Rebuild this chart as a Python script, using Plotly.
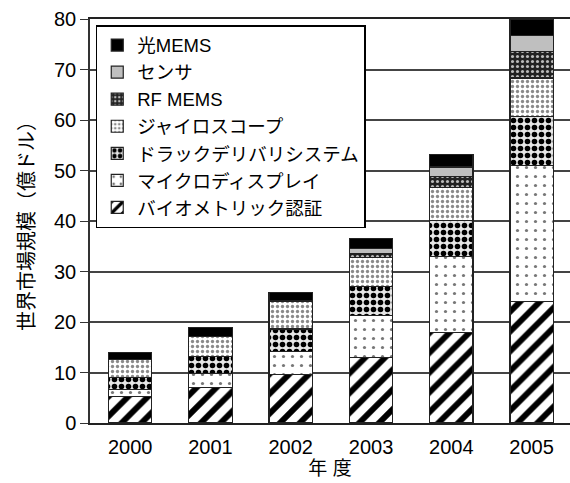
import plotly.graph_objects as go

# Fiscal years on the category axis
years = ["2000", "2001", "2002", "2003", "2004", "2005"]

# Market size per segment (100 million USD), bottom of stack first
biometric = [5.2, 7.0, 9.6, 12.9, 17.9, 24.1]
microdisplay = [1.5, 2.8, 4.6, 8.4, 15.0, 26.9]
drug_delivery = [2.3, 3.4, 4.4, 5.8, 7.2, 9.7]
gyroscope = [3.5, 3.9, 5.4, 5.6, 6.6, 7.6]
rf_mems = [0.0, 0.0, 0.0, 0.8, 2.1, 5.2]
sensor = [0.0, 0.0, 0.3, 1.0, 1.9, 3.3]
optical_mems = [1.4, 1.8, 1.6, 2.1, 2.4, 3.2]

FONT = "Liberation Sans, Arial, Noto Sans CJK JP, sans-serif"
EDGE = dict(color="#222222", width=1.2)

series = [
    ("バイオメトリック認証", biometric,
     dict(shape="/", fgcolor="black", bgcolor="white", size=14, solidity=0.42)),
    ("マイクロディスプレイ", microdisplay,
     dict(shape=".", fgcolor="#777777", bgcolor="white", size=9, solidity=0.1)),
    ("ドラックデリバリシステム", drug_delivery,
     dict(shape=".", fgcolor="black", bgcolor="#e6e6e6", size=7, solidity=0.5)),
    ("ジャイロスコープ", gyroscope,
     dict(shape=".", fgcolor="#8a8a8a", bgcolor="white", size=5, solidity=0.35)),
    ("RF MEMS", rf_mems,
     dict(shape=".", fgcolor="#bbbbbb", bgcolor="#222222", size=5, solidity=0.3)),
    ("センサ", sensor, None),
    ("光MEMS", optical_mems, None),
]
solid = {"センサ": "#bfbfbf", "光MEMS": "black"}

fig = go.Figure()
for name, vals, pattern in series:
    marker = dict(line=EDGE)
    if pattern is None:
        marker["color"] = solid[name]
    else:
        marker["color"] = "white"
        marker["pattern"] = dict(fillmode="replace", **pattern)
    fig.add_trace(go.Bar(x=years, y=vals, name=name, marker=marker, width=0.54))

fig.update_layout(
    barmode="stack",
    width=570,
    height=483,
    margin=dict(l=90, r=0, t=19, b=60),
    paper_bgcolor="white",
    plot_bgcolor="white",
    font=dict(family=FONT, size=19, color="black"),
    legend=dict(
        traceorder="reversed",
        x=0.012, y=0.985, xanchor="left", yanchor="top",
        bgcolor="white", bordercolor="black", borderwidth=1.5,
        font=dict(size=18.5), itemwidth=30, tracegroupgap=0,
    ),
    xaxis=dict(
        range=[-0.5, 5.478],
        showline=True, linecolor="#222222", linewidth=1.5, mirror=True,
        ticks="", tickfont=dict(size=20), ticklabelstandoff=5,
        title=dict(text="年 度", font=dict(size=19), standoff=3),
    ),
    yaxis=dict(
        range=[0, 80], dtick=10,
        showline=True, linecolor="#333333", linewidth=1.5,
        ticks="outside", ticklen=8, tickcolor="#333333",
        showgrid=True, gridcolor="#444444", gridwidth=1.5,
        tickfont=dict(size=20),
        title=dict(text="世界市場規模（億ドル）", font=dict(size=20), standoff=14),
    ),
)

fig.write_html("out.html")
